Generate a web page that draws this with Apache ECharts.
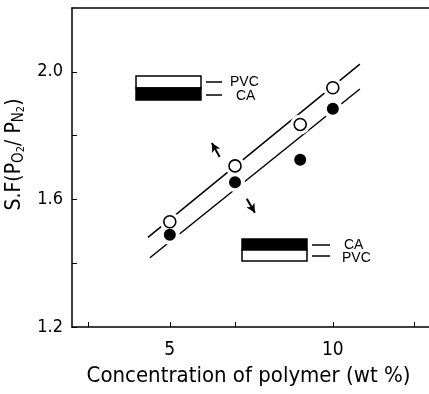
<!DOCTYPE html>
<html><head><meta charset="utf-8">
<script src="https://cdn.jsdelivr.net/npm/echarts@6/dist/echarts.min.js"></script>
<style>html,body{margin:0;padding:0;background:#fff}#c{width:429px;height:394px}</style>
</head><body><div id="c"></div>
<script>
const concentration = [5, 7, 9, 10];
const pvcSF = [1.53, 1.705, 1.835, 1.95];
const caSF = [1.489, 1.654, 1.724, 1.884];
const pvcFitLine = [[4.33, 1.481], [10.83, 2.024]];
const caFitLine = [[4.39, 1.417], [10.83, 1.946]];
const arrowUp = [[6.53, 1.733], [6.29, 1.777]];
const arrowDown = [[7.36, 1.602], [7.61, 1.558]];
const xTicks = [2.5, 5, 7, 10, 12.5];
const xLabels = [5, 10];
const yTicks = [1.2, 1.4, 1.6, 1.8, 2.0];
const yLabels = [1.2, 1.6, 2.0];

const chart = echarts.init(document.getElementById('c'), null, {renderer: 'canvas'});
const font = 'DejaVu Sans Condensed';
const pvcPts = concentration.map((x, i) => [x, pvcSF[i]]);
const caPts = concentration.map((x, i) => [x, caSF[i]]);

chart.setOption({
  animation: false,
  backgroundColor: '#fff',
  grid: {left: 72, right: 0, top: 8, bottom: 67, outerBoundsMode: 'none', containLabel: false},
  xAxis: [{
    type: 'value', min: 2, max: 12.95,
    name: 'Concentration of polymer (wt %)', nameLocation: 'middle', nameGap: 37,
    nameTextStyle: {fontFamily: font, fontSize: 22, color: '#000', padding: [0, 4, 0, 0]},
    axisLine: {lineStyle: {color: '#000', width: 1.5}},
    axisTick: {inside: true, length: 5, customValues: xTicks, lineStyle: {color: '#000'}},
    axisLabel: {customValues: xLabels, fontFamily: font, fontSize: 19, color: '#000', margin: 14},
    splitLine: {show: false}
  }, {
    type: 'value', min: 2, max: 12.95, position: 'top',
    axisLine: {show: true, lineStyle: {color: '#000', width: 1.5}},
    axisTick: {show: false}, axisLabel: {show: false}, splitLine: {show: false}
  }],
  yAxis: {
    type: 'value', min: 1.2, max: 2.2,
    name: 'S.F(P{s|O}{ss|2}/ P{s|N}{ss|2})', nameLocation: 'middle', nameGap: 44, nameRotate: 90,
    nameTextStyle: {
      fontFamily: font, fontSize: 21, color: '#000', padding: [0, 0, 0, 26],
      rich: {
        s: {fontFamily: font, fontSize: 15, color: '#000', verticalAlign: 'bottom', padding: [8, 0, 0, 0]},
        ss: {fontFamily: font, fontSize: 11, color: '#000', verticalAlign: 'bottom', padding: [11, 0, 0, 0]}
      }
    },
    axisLine: {show: true, lineStyle: {color: '#000', width: 1.5}},
    axisTick: {show: true, inside: true, length: 5, customValues: yTicks, lineStyle: {color: '#000'}},
    axisLabel: {customValues: yLabels, fontFamily: font, fontSize: 18, color: '#000', margin: 9,
      formatter: v => v.toFixed(1)},
    splitLine: {show: false}
  },
  series: [
    {type: 'line', data: pvcFitLine, symbol: 'none', lineStyle: {color: '#000', width: 1.5}, z: 1},
    {type: 'line', data: caFitLine, symbol: 'none', lineStyle: {color: '#000', width: 1.5}, z: 1,
      markLine: {
        silent: true, symbol: ['none', 'arrow'], symbolSize: [7, 9],
        lineStyle: {color: '#000', width: 2, type: 'solid', opacity: 1}, label: {show: false},
        data: [
          [{coord: arrowUp[0]}, {coord: arrowUp[1]}],
          [{coord: arrowDown[0]}, {coord: arrowDown[1]}]
        ]
      }},
    {type: 'scatter', data: pvcPts, symbol: 'circle', symbolSize: 20, itemStyle: {color: '#fff', opacity: 1}, z: 2},
    {type: 'scatter', data: caPts, symbol: 'circle', symbolSize: 20, itemStyle: {color: '#fff', opacity: 1}, z: 2},
    {type: 'scatter', name: 'PVC', data: pvcPts, symbol: 'circle', symbolSize: 12,
      itemStyle: {color: '#fff', borderColor: '#000', borderWidth: 1.6, opacity: 1}, z: 3},
    {type: 'scatter', name: 'CA', data: caPts, symbol: 'circle', symbolSize: 12,
      itemStyle: {color: '#000', opacity: 1}, z: 3}
  ],
  graphic: [
    {type: 'rect', shape: {x: 136, y: 76, width: 65, height: 12}, style: {fill: '#fff', stroke: '#000', lineWidth: 1.5}},
    {type: 'rect', shape: {x: 136, y: 88, width: 65, height: 12}, style: {fill: '#000', stroke: '#000', lineWidth: 1.5}},
    {type: 'line', shape: {x1: 206, y1: 82, x2: 222, y2: 82}, style: {stroke: '#000', lineWidth: 1.5}},
    {type: 'line', shape: {x1: 206, y1: 95, x2: 222, y2: 95}, style: {stroke: '#000', lineWidth: 1.5}},
    {type: 'text', x: 230, y: 82, style: {text: 'PVC', font: '14px "Liberation Sans"', fill: '#000', verticalAlign: 'middle'}},
    {type: 'text', x: 236, y: 96, style: {text: 'CA', font: '14px "Liberation Sans"', fill: '#000', verticalAlign: 'middle'}},
    {type: 'rect', shape: {x: 242, y: 239, width: 65, height: 11}, style: {fill: '#000', stroke: '#000', lineWidth: 1.5}},
    {type: 'rect', shape: {x: 242, y: 250, width: 65, height: 11}, style: {fill: '#fff', stroke: '#000', lineWidth: 1.5}},
    {type: 'line', shape: {x1: 312, y1: 245, x2: 330, y2: 245}, style: {stroke: '#000', lineWidth: 1.5}},
    {type: 'line', shape: {x1: 312, y1: 256, x2: 330, y2: 256}, style: {stroke: '#000', lineWidth: 1.5}},
    {type: 'text', x: 344, y: 245, style: {text: 'CA', font: '14px "Liberation Sans"', fill: '#000', verticalAlign: 'middle'}},
    {type: 'text', x: 342, y: 258, style: {text: 'PVC', font: '14px "Liberation Sans"', fill: '#000', verticalAlign: 'middle'}}
  ]
});
</script></body></html>
